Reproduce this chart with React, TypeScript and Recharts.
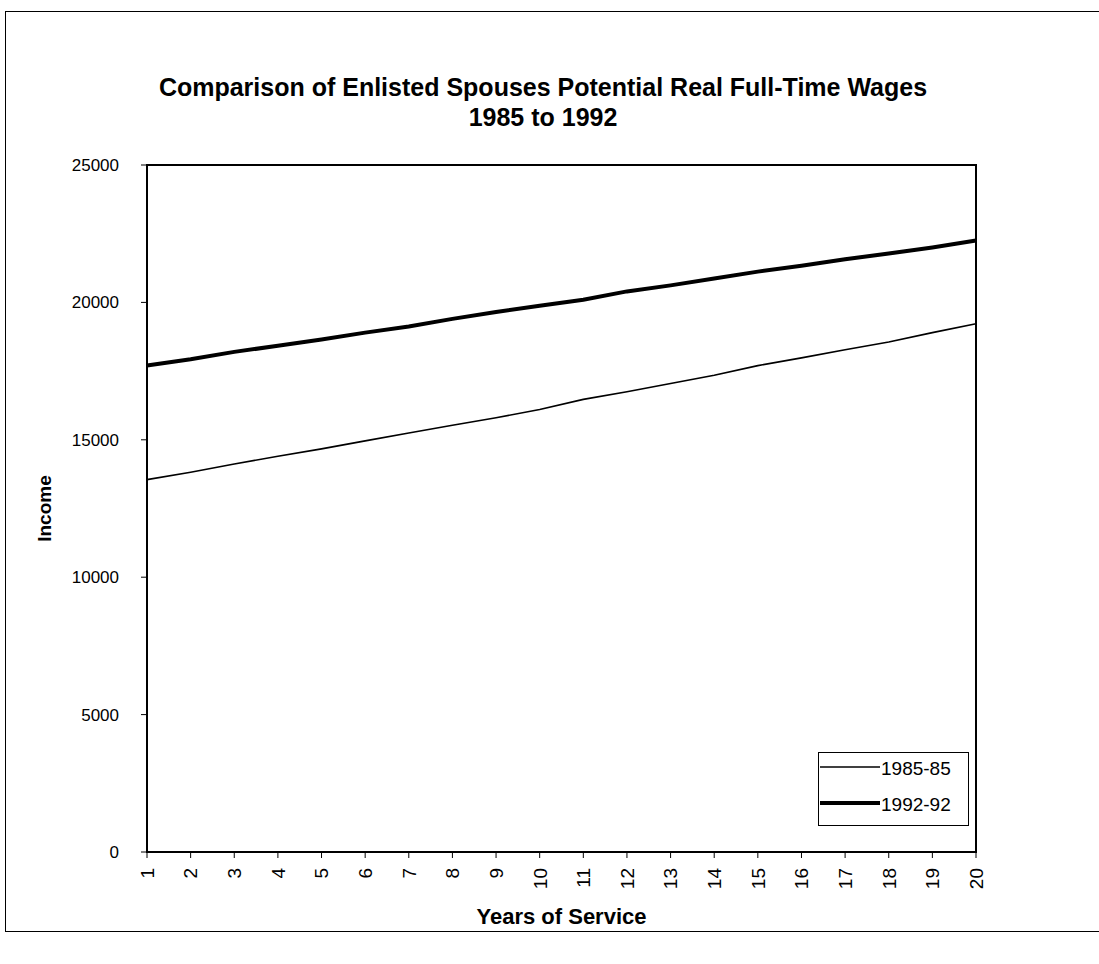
import React from "react";
import { LineChart, Line, XAxis, YAxis, ReferenceArea, Label } from "recharts";

const years = [1, 2, 3, 4, 5, 6, 7, 8, 9, 10, 11, 12, 13, 14, 15, 16, 17, 18, 19, 20];
const wages1985 = [13550, 13820, 14120, 14400, 14670, 14960, 15250, 15530, 15800, 16100, 16470, 16750, 17050, 17350, 17700, 17980, 18280, 18560, 18900, 19220];
const wages1992 = [17700, 17930, 18200, 18420, 18650, 18900, 19120, 19400, 19650, 19880, 20100, 20400, 20620, 20870, 21120, 21330, 21570, 21780, 22000, 22250];
const yTicks = [0, 5000, 10000, 15000, 20000, 25000];
const seriesNames = ["1985-85", "1992-92"];

const data = years.map((y, i) => ({ year: y, a: wages1985[i], b: wages1992[i] }));

const FONT = "'Liberation Sans', Arial, sans-serif";

const XTick = (props: any) => {
  const { x, y, payload } = props;
  return (
    <text
      x={x}
      y={y}
      transform={`rotate(-90 ${x} ${y})`}
      textAnchor="end"
      dy="0.36em"
      fontSize={19}
      fontFamily={FONT}
      fill="#000"
    >
      {payload.value}
    </text>
  );
};

const LegendBox = () => (
  <svg width={152} height={75} style={{ display: "block" }}>
    <rect x={0.5} y={0.5} width={150} height={73} fill="#fff" stroke="#000" strokeWidth={1} />
    <line x1={2} y1={15} x2={62} y2={15} stroke="#000" strokeWidth={1.5} />
    <text x={63} y={23} fontSize={19} fontFamily={FONT} fill="#000">{seriesNames[0]}</text>
    <line x1={2} y1={51} x2={62} y2={51} stroke="#000" strokeWidth={4} />
    <text x={63} y={59} fontSize={19} fontFamily={FONT} fill="#000">{seriesNames[1]}</text>
  </svg>
);

export default function App() {
  return (
    <div style={{ position: "absolute", left: 0, top: 0, width: 1099, height: 964, background: "#fff", overflow: "hidden" }}>
      <div style={{ position: "absolute", left: 5, top: 11, width: 1100, height: 919, border: "1px solid #000" }} />
      <div
        style={{
          position: "absolute",
          left: 0,
          top: 72,
          width: 1086,
          textAlign: "center",
          fontFamily: FONT,
          fontWeight: "bold",
          fontSize: 25,
          lineHeight: "30px",
          color: "#000",
        }}
      >
        Comparison of Enlisted Spouses Potential Real Full-Time Wages
        <br />
        1985 to 1992
      </div>
      <div style={{ position: "absolute", left: 0, top: 0 }}>
        <LineChart width={1099} height={964} data={data} margin={{ top: 165, right: 123, bottom: 0, left: 0 }}>
          <XAxis
            dataKey="year"
            type="number"
            domain={[1, 20]}
            ticks={years}
            interval={0}
            tick={<XTick />}
            tickSize={6}
            tickMargin={10}
            stroke="#000"
            axisLine={{ stroke: "#000", strokeWidth: 2 }}
            height={112}
          >
            <Label
              value="Years of Service"
              position="insideTop"
              offset={56}
              style={{ fontFamily: FONT, fontWeight: "bold", fontSize: 22, fill: "#000" }}
            />
          </XAxis>
          <YAxis
            type="number"
            domain={[0, 25000]}
            ticks={yTicks}
            interval={0}
            width={147}
            tickSize={6}
            tickMargin={22}
            stroke="#000"
            axisLine={{ stroke: "#000", strokeWidth: 2 }}
            tick={{ fontSize: 17, fontFamily: FONT, fill: "#000" }}
          >
            <Label
              value="Income"
              angle={-90}
              position="insideLeft"
              offset={44}
              style={{ fontFamily: FONT, fontWeight: "bold", fontSize: 19, fill: "#000", textAnchor: "middle" }}
            />
          </YAxis>
          <ReferenceArea x1={1} x2={20} y1={0} y2={25000} fill="none" stroke="#000" strokeWidth={2} ifOverflow="visible" />
          <Line type="linear" dataKey="a" name={seriesNames[0]} stroke="#000" strokeWidth={1.6} dot={false} isAnimationActive={false} />
          <Line type="linear" dataKey="b" name={seriesNames[1]} stroke="#000" strokeWidth={4} dot={false} isAnimationActive={false} />
        </LineChart>
      </div>
      <div style={{ position: "absolute", left: 818, top: 752 }}>
        <LegendBox />
      </div>
    </div>
  );
}
